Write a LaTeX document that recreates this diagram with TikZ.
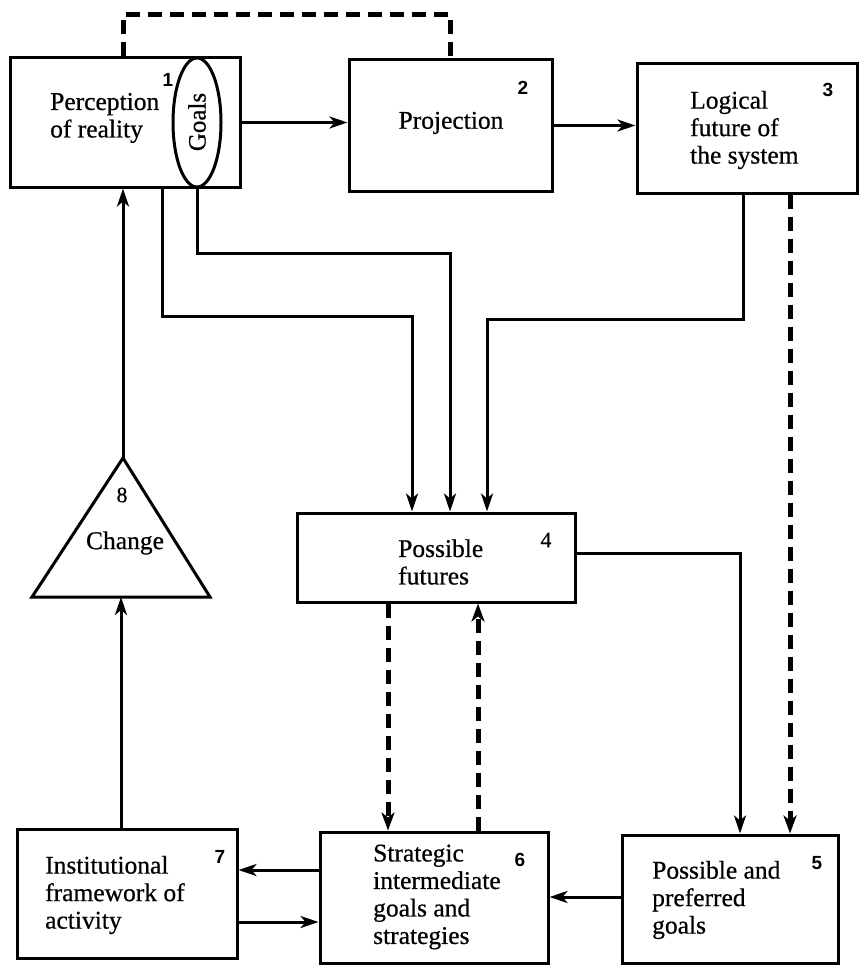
\documentclass[tikz,border=0pt]{standalone}
\usepackage{fontspec}
\setmainfont{Liberation Serif}[FakeBold=0.6]
\setsansfont{Liberation Sans}
\usetikzlibrary{arrows.meta,shapes.geometric}
\tikzset{
  boxnode/.style={draw, line width=3pt, rectangle, inner sep=0pt},
  lbl/.style={font=\fontsize{25.5}{27.5}\selectfont, align=left, inner sep=0pt, anchor=west},
  num/.style={font=\sffamily\bfseries\fontsize{19}{19}\selectfont, inner sep=0pt},
  snum/.style={font=\fontsize{22}{22}\selectfont, inner sep=0pt},
  conn/.style={line width=3pt, line join=miter},
  arr/.style={conn, -{Stealth[length=18pt,width=12pt,inset=5pt]}},
  dconn/.style={line width=5pt, dash pattern=on 14pt off 8pt},
  darr/.style={dconn, -{Stealth[length=18pt,width=13pt,inset=5pt]}}
}
\begin{document}
\begin{tikzpicture}[x=1pt,y=-1pt]
\useasboundingbox[fill=white] (0,0) rectangle (860,971);

% boxes
\node[boxnode, minimum width=230pt, minimum height=129pt] (b1) at (125,122.5) {};
\node[draw, line width=3pt, ellipse, minimum width=48pt, minimum height=129pt, inner sep=0pt, fill=white] (goals) at (197,122.5) {};
\node[font=\fontsize{25}{25}\selectfont, rotate=90, inner sep=0pt] (goalstxt) at (197,122) {Goals};
\node[boxnode, minimum width=203pt, minimum height=131pt] (b2) at (450.5,125.5) {};
\node[boxnode, minimum width=220pt, minimum height=129pt] (b3) at (747,128.5) {};
\node[boxnode, minimum width=278pt, minimum height=89pt] (b4) at (436,557.5) {};
\node[boxnode, minimum width=216pt, minimum height=128pt] (b5) at (730,899) {};
\node[boxnode, minimum width=228pt, minimum height=131pt] (b6) at (434,897.5) {};
\node[boxnode, minimum width=220pt, minimum height=129pt] (b7) at (127,893.5) {};

% triangle
\coordinate (tritop) at (123,458);
\coordinate (trileft) at (32,597);
\coordinate (triright) at (210,597);
\draw[line width=3pt, line join=miter] (tritop) -- (triright) -- (trileft) -- cycle;

% texts
\node[lbl] (t1) at (50,118) {Perception\\of reality};
\node[lbl, anchor=center] (t2) at (451,123) {Projection};
\node[lbl] (t3) at (690,130) {Logical\\future of\\the system};
\node[lbl] (t4) at (398,562) {Possible\\futures};
\node[lbl] (t5) at (652,900) {Possible and\\preferred\\goals};
\node[lbl] (t6) at (373,897) {Strategic\\intermediate\\goals and\\strategies};
\node[lbl] (t7) at (45,895) {Institutional\\framework of\\activity};
\node[lbl, anchor=center] (t8) at (125,543) {Change};

% numbers
\node[num] (n1) at (168,80) {1};
\node[num] (n2) at (523,88) {2};
\node[num] (n3) at (828,90) {3};
\node[snum] (n4) at (546,540) {4};
\node[num] (n5) at (817,863) {5};
\node[num] (n6) at (520,860) {6};
\node[num] (n7) at (220,857) {7};
\node[snum] (n8) at (122,495) {8};

% dashed feedback on top
\draw[dconn] (123,0 |- b1.north) -- (123,15) -- (450,15) -- (450,0 |- b2.north);

% top row arrows
\draw[arr] (b1.east) -- (b1.east -| b2.west);
\draw[arr] (b2.east) -- (b2.east -| b3.west);

% change to perception
\draw[arr] (tritop) -- (tritop |- b1.south);

% lines into possible futures
\draw[arr] (162,0 |- b1.south) -- (162,316) -- (412,316) -- (412,0 |- b4.north);
\draw[arr] (goals.south) -- (goals.south |- 0,253) -- (450,253) -- (450,0 |- b4.north);
\draw[arr] (743,0 |- b3.south) -- (743,319) -- (487,319) -- (487,0 |- b4.north);

% logical future to preferred goals (dashed)
\draw[darr] (790,0 |- b3.south) -- (790,0 |- b5.north);

% possible futures to preferred goals
\draw[arr] (b4.east |- 0,553) -- (740,553) -- (740,0 |- b5.north);

% between possible futures and strategic goals
\draw[darr] (388,0 |- b4.south) -- (388,0 |- b6.north);
\draw[darr] (478,0 |- b6.north) -- (478,0 |- b4.south);

% bottom row
\draw[arr] (b5.west |- 0,897) -- (b6.east |- 0,897);
\draw[arr] (b6.west |- 0,870) -- (b7.east |- 0,870);
\draw[arr] (b7.east |- 0,922) -- (b6.west |- 0,922);

% institutional framework to change
\draw[arr] (121,0 |- b7.north) -- (121,0 |- trileft);
\end{tikzpicture}
\end{document}
